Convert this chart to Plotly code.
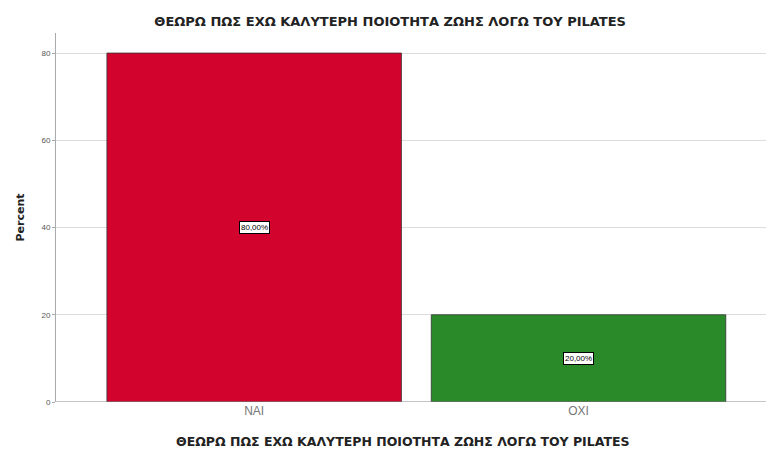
import plotly.graph_objects as go

categories = ["NAI", "OXI"]
percents = [80.0, 20.0]
labels = ["80,00%", "20,00%"]
colors = ["#D2042D", "#2A8A2A"]
y_ticks = [0, 20, 40, 60, 80]

title = "ΘΕΩΡΩ ΠΩΣ ΕΧΩ ΚΑΛΥΤΕΡΗ ΠΟΙΟΤΗΤΑ ΖΩΗΣ ΛΟΓΩ ΤΟΥ PILATES"
bold_font = "DejaVu Sans, Verdana"

fig = go.Figure()
fig.add_trace(go.Bar(
    x=categories, y=percents, width=0.908,
    marker=dict(color=colors, line=dict(color="#333333", width=0.8)),
    hoverinfo="skip",
))

for c, v, t in zip(categories, percents, labels):
    fig.add_annotation(
        x=c, y=v / 2, text=t, showarrow=False,
        font=dict(family="Liberation Sans, Arial", size=8, color="#000000"),
        bgcolor="#FFFFFF", bordercolor="#000000", borderwidth=1, borderpad=1,
    )

# x-axis title, placed as an annotation under the category labels
fig.add_annotation(
    xref="paper", yref="paper", x=0.489, y=-0.106, xanchor="center", yanchor="middle",
    text="<b>" + title + "</b>", showarrow=False,
    font=dict(family=bold_font, size=12.5, color="#222222"),
)

fig.update_layout(
    width=768, height=455,
    margin=dict(l=56, r=2, t=33, b=53),
    paper_bgcolor="#FFFFFF", plot_bgcolor="#FFFFFF",
    showlegend=False,
    title=dict(text="<b>" + title + "</b>", x=0.508, xanchor="center", y=0.953, yanchor="middle",
               font=dict(family=bold_font, size=13, color="#222222")),
    font=dict(family="Liberation Sans, Arial"),
)
fig.update_xaxes(
    range=[-0.611, 1.578],
    showgrid=False, zeroline=False, showline=False,
    tickfont=dict(size=12, color="#777777"), ticks="",
)
fig.update_yaxes(
    range=[0, 84.6], tickvals=y_ticks,
    showgrid=True, gridcolor="#DCDCDC", gridwidth=1,
    zeroline=False, showline=True, linecolor="#AAAAAA", linewidth=1,
    ticks="outside", ticklen=3, tickcolor="#AAAAAA",
    tickfont=dict(size=8, color="#555555"),
    title=dict(text="<b>Percent</b>", font=dict(family=bold_font, size=11, color="#222222"),
               standoff=14),
)
# baseline at zero
fig.add_shape(type="line", xref="paper", yref="y", x0=0, x1=1, y0=0, y1=0,
              line=dict(color="#888888", width=1))

fig.write_html("out.html")
